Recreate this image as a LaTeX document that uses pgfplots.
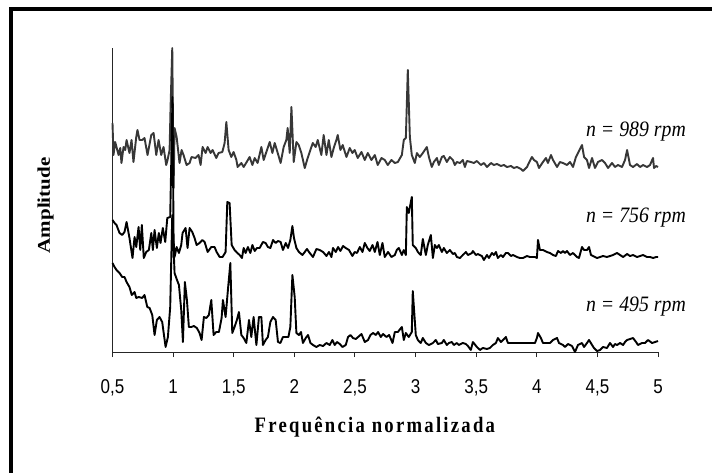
\documentclass[border=0pt]{standalone}
\usepackage{pgfplots}
\pgfplotsset{compat=1.18}
\usepackage{fontspec}
\setmainfont{Liberation Serif}
\newfontfamily\arialf{Liberation Sans}
\newfontfamily\lblfont[LetterSpace=12]{Liberation Serif}
\definecolor{topgray}{RGB}{55,55,55}
\newcommand{\tl}[1]{\scalebox{0.85}[1]{\arialf\fontsize{20}{22}\selectfont #1}}
\newcommand{\nl}[1]{\scalebox{0.9}[1]{\itshape\fontsize{22}{25}\selectfont #1}}
\begin{document}
\begin{tikzpicture}
\useasboundingbox (0,0) rectangle (712pt,472pt);
\fill[white] (0,0) rectangle (712pt,472pt);
\draw[line width=4pt, miter limit=10] (11pt,-20pt) -- (11pt,463pt) -- (740pt,463pt);
\begin{axis}[
  at={(112.5pt,120pt)}, anchor=south west,
  scale only axis, width=545.5pt, height=304pt,
  xmin=0.5, xmax=5, ymin=0, ymax=304,
  clip=false,
  axis x line=bottom, axis y line=left,
  axis line style={-, line width=0.9pt, black!85},
  xtick={0.5,1,1.5,2,2.5,3,3.5,4,4.5,5},
  xticklabels={\tl{0,5},\tl{1},\tl{1,5},\tl{2},\tl{2,5},\tl{3},\tl{3,5},\tl{4},\tl{4,5},\tl{5}},
  ytick=\empty,
  tick align=outside, major tick length=5pt,
  xtick style={line width=0.9pt, black!85},
  xticklabel style={anchor=base, yshift=-36pt},
  every axis x label/.style={at={(axis description cs:0.481,0)}, anchor=base, yshift=-80pt},
  every axis y label/.style={at={(axis description cs:-0.1146,0.482)}, rotate=90, anchor=base},
  xlabel={\scalebox{0.85}[1]{\lblfont\bfseries\fontsize{22}{25}\selectfont Frequência normalizada}},
  ylabel={\scalebox{1}[0.85]{\bfseries\fontsize{21}{24}\selectfont Amplitude}},
]
% n = 989 rpm
\addplot[topgray, line width=1.9pt, line join=round] coordinates {
(0.500,229)(0.508,197)(0.522,210)(0.533,205)(0.550,197)(0.564,204)(0.574,189)(0.591,205)(0.605,202)(0.616,212)(0.640,199)(0.657,212)(0.673,190)(0.696,215)(0.706,222)(0.723,212)(0.745,212)(0.764,214)(0.789,197)(0.820,217)(0.839,219)(0.861,197)(0.880,212)(0.902,197)(0.921,205)(0.943,187)(0.954,192)(0.971,202)(0.979,245)(0.993,304)(1.004,164)(1.012,224)(1.029,215)(1.053,189)(1.070,202)(1.086,197)(1.111,187)(1.136,189)(1.152,195)(1.185,194)(1.210,197)(1.227,187)(1.243,205)(1.268,199)(1.285,205)(1.309,199)(1.326,202)(1.356,194)(1.375,199)(1.406,200)(1.425,209)(1.439,230)(1.458,202)(1.480,195)(1.499,200)(1.522,192)(1.532,185)(1.563,189)(1.582,185)(1.607,190)(1.631,195)(1.654,187)(1.673,194)(1.697,189)(1.728,205)(1.747,192)(1.769,200)(1.797,210)(1.819,199)(1.838,209)(1.863,199)(1.887,189)(1.912,205)(1.934,212)(1.945,224)(1.962,199)(1.976,245)(1.995,190)(2.017,210)(2.036,207)(2.058,199)(2.086,184)(2.110,194)(2.127,200)(2.152,209)(2.176,205)(2.193,212)(2.223,197)(2.242,217)(2.265,197)(2.284,212)(2.306,195)(2.325,204)(2.347,212)(2.358,217)(2.380,202)(2.399,207)(2.430,195)(2.457,204)(2.479,199)(2.498,202)(2.523,194)(2.554,200)(2.581,192)(2.606,199)(2.636,192)(2.664,197)(2.688,187)(2.719,194)(2.746,192)(2.771,187)(2.801,192)(2.829,189)(2.854,190)(2.887,197)(2.903,212)(2.920,214)(2.936,282)(2.953,215)(2.969,197)(2.994,189)(3.011,199)(3.035,195)(3.060,199)(3.093,205)(3.110,195)(3.134,185)(3.151,190)(3.176,194)(3.192,187)(3.217,195)(3.233,196)(3.258,190)(3.283,195)(3.308,192)(3.324,187)(3.341,190)(3.366,189)(3.390,192)(3.407,185)(3.423,191)(3.456,190)(3.481,189)(3.506,191)(3.539,187)(3.564,189)(3.589,185)(3.622,189)(3.646,187)(3.671,188)(3.704,186)(3.729,187)(3.754,185)(3.787,186)(3.811,184)(3.836,185)(3.869,183)(3.886,181)(3.919,185)(3.935,189)(3.960,195)(3.977,192)(4.001,190)(4.018,184)(4.051,190)(4.076,194)(4.092,189)(4.117,197)(4.134,192)(4.167,185)(4.191,190)(4.216,189)(4.249,187)(4.274,190)(4.299,185)(4.323,195)(4.340,199)(4.373,207)(4.390,195)(4.414,192)(4.431,184)(4.456,194)(4.480,184)(4.505,190)(4.538,192)(4.563,189)(4.588,184)(4.621,189)(4.645,185)(4.670,187)(4.703,185)(4.728,192)(4.745,202)(4.769,187)(4.794,185)(4.827,188)(4.852,185)(4.877,187)(4.910,185)(4.934,187)(4.959,194)(4.967,184)(4.984,186)(5.000,185)
};
% n = 756 rpm
\addplot[black, line width=1.9pt, line join=round] coordinates {
(0.500,132)(0.517,129)(0.533,127)(0.558,119)(0.580,117)(0.599,120)(0.616,130)(0.640,114)(0.665,94)(0.682,115)(0.696,105)(0.715,125)(0.729,102)(0.742,127)(0.758,94)(0.778,100)(0.800,102)(0.820,119)(0.833,102)(0.847,122)(0.866,104)(0.882,119)(0.896,109)(0.915,124)(0.935,110)(0.952,134)(0.976,135)(0.995,255)(1.004,112)(1.012,95)(1.029,105)(1.048,99)(1.067,107)(1.078,119)(1.103,124)(1.119,104)(1.136,124)(1.158,120)(1.177,114)(1.194,107)(1.218,109)(1.241,112)(1.260,110)(1.285,100)(1.315,105)(1.342,105)(1.359,100)(1.384,95)(1.408,95)(1.433,100)(1.447,150)(1.466,149)(1.483,107)(1.507,102)(1.530,99)(1.549,97)(1.568,94)(1.582,104)(1.598,99)(1.617,105)(1.637,99)(1.654,107)(1.673,101)(1.692,104)(1.714,104)(1.741,110)(1.763,109)(1.782,105)(1.802,104)(1.824,112)(1.846,109)(1.865,111)(1.887,110)(1.906,102)(1.929,109)(1.948,104)(1.967,112)(1.984,126)(1.997,114)(2.017,104)(2.038,100)(2.067,97)(2.086,100)(2.104,103)(2.127,99)(2.154,95)(2.182,103)(2.209,102)(2.237,100)(2.265,96)(2.286,100)(2.306,95)(2.319,104)(2.342,100)(2.361,105)(2.380,101)(2.402,106)(2.424,104)(2.451,102)(2.479,96)(2.498,100)(2.517,99)(2.540,105)(2.562,100)(2.581,109)(2.603,104)(2.622,101)(2.645,107)(2.664,100)(2.686,110)(2.705,97)(2.727,109)(2.746,95)(2.773,100)(2.801,95)(2.829,97)(2.845,102)(2.862,104)(2.887,97)(2.903,102)(2.920,97)(2.928,145)(2.944,139)(2.969,155)(2.977,107)(3.002,104)(3.019,100)(3.043,97)(3.060,113)(3.085,97)(3.101,107)(3.126,117)(3.143,94)(3.159,107)(3.176,104)(3.192,107)(3.217,100)(3.233,104)(3.258,99)(3.283,102)(3.308,98)(3.324,99)(3.341,95)(3.366,94)(3.390,97)(3.415,100)(3.432,97)(3.465,99)(3.473,101)(3.498,97)(3.514,98)(3.547,96)(3.564,92)(3.589,97)(3.605,94)(3.630,99)(3.646,97)(3.663,100)(3.679,94)(3.704,97)(3.721,95)(3.745,99)(3.762,99)(3.787,96)(3.803,97)(3.836,95)(3.861,94)(3.886,94)(3.919,96)(3.944,95)(3.985,95)(4.001,94)(4.010,112)(4.026,102)(4.051,102)(4.084,100)(4.109,99)(4.134,97)(4.158,96)(4.175,101)(4.200,99)(4.216,101)(4.233,99)(4.249,101)(4.274,97)(4.299,99)(4.332,95)(4.348,94)(4.373,105)(4.390,102)(4.414,102)(4.431,105)(4.447,97)(4.464,96)(4.497,94)(4.522,95)(4.546,96)(4.579,95)(4.604,96)(4.629,97)(4.662,99)(4.687,97)(4.712,95)(4.745,98)(4.769,96)(4.794,97)(4.827,95)(4.852,96)(4.877,97)(4.910,95)(4.934,95)(4.959,94)(4.984,95)(5.000,95)
};
% n = 495 rpm
\addplot[black, line width=1.9pt, line join=round] coordinates {
(0.500,89)(0.517,85)(0.533,82)(0.558,79)(0.580,75)(0.599,75)(0.616,70)(0.640,65)(0.659,57)(0.682,60)(0.696,54)(0.717,55)(0.745,54)(0.764,57)(0.787,45)(0.806,44)(0.828,37)(0.847,17)(0.866,32)(0.888,35)(0.910,30)(0.938,5)(0.957,15)(0.976,45)(0.993,137)(1.012,79)(1.026,74)(1.048,67)(1.067,42)(1.081,10)(1.097,70)(1.114,52)(1.130,25)(1.150,25)(1.171,26)(1.196,24)(1.218,19)(1.235,12)(1.254,35)(1.274,34)(1.295,37)(1.315,52)(1.334,17)(1.356,20)(1.378,20)(1.400,34)(1.411,52)(1.433,35)(1.452,62)(1.472,89)(1.488,19)(1.507,25)(1.526,32)(1.543,40)(1.563,17)(1.582,14)(1.604,9)(1.626,32)(1.645,15)(1.664,35)(1.687,7)(1.708,35)(1.728,35)(1.741,7)(1.763,12)(1.782,15)(1.802,30)(1.824,35)(1.846,32)(1.865,10)(1.885,9)(1.906,15)(1.929,15)(1.951,15)(1.967,25)(1.984,77)(2.003,55)(2.017,19)(2.038,17)(2.055,20)(2.071,9)(2.094,14)(2.113,17)(2.133,9)(2.154,7)(2.182,5)(2.209,7)(2.237,6)(2.265,9)(2.292,7)(2.314,12)(2.333,7)(2.352,10)(2.375,8)(2.397,5)(2.424,7)(2.443,15)(2.463,17)(2.484,14)(2.507,13)(2.526,15)(2.554,18)(2.581,10)(2.608,12)(2.628,17)(2.650,19)(2.672,17)(2.691,20)(2.713,15)(2.732,18)(2.760,15)(2.782,17)(2.810,9)(2.829,20)(2.854,20)(2.887,25)(2.903,12)(2.920,19)(2.944,15)(2.969,20)(2.977,61)(3.002,17)(3.019,12)(3.043,9)(3.060,14)(3.085,9)(3.110,7)(3.143,9)(3.167,12)(3.184,8)(3.217,9)(3.233,12)(3.258,7)(3.275,9)(3.299,10)(3.316,7)(3.341,9)(3.357,7)(3.390,9)(3.415,8)(3.432,6)(3.456,2)(3.473,10)(3.506,5)(3.531,2)(3.555,4)(3.589,3)(3.613,4)(3.638,7)(3.663,9)(3.679,14)(3.704,10)(3.721,12)(3.745,15)(3.762,9)(3.795,9)(3.820,9)(3.844,9)(3.877,9)(3.902,9)(3.927,9)(3.960,9)(3.985,9)(4.001,14)(4.010,19)(4.034,14)(4.051,9)(4.084,9)(4.109,9)(4.134,12)(4.167,14)(4.183,9)(4.216,7)(4.233,5)(4.257,8)(4.290,6)(4.315,0)(4.340,7)(4.373,9)(4.390,5)(4.414,9)(4.431,12)(4.456,7)(4.472,4)(4.497,1)(4.522,2)(4.546,5)(4.579,4)(4.604,9)(4.629,5)(4.645,8)(4.662,7)(4.687,9)(4.712,7)(4.728,10)(4.745,12)(4.769,13)(4.794,14)(4.819,10)(4.835,7)(4.868,9)(4.893,9)(4.918,12)(4.951,9)(4.976,10)(5.000,11)
};
\end{axis}
\node[anchor=base east, inner sep=0pt] at (686pt,335pt) {\nl{n = 989 rpm}};
\node[anchor=base east, inner sep=0pt] at (686pt,250pt) {\nl{n = 756 rpm}};
\node[anchor=base east, inner sep=0pt] at (686pt,161pt) {\nl{n = 495 rpm}};
\end{tikzpicture}
\end{document}
